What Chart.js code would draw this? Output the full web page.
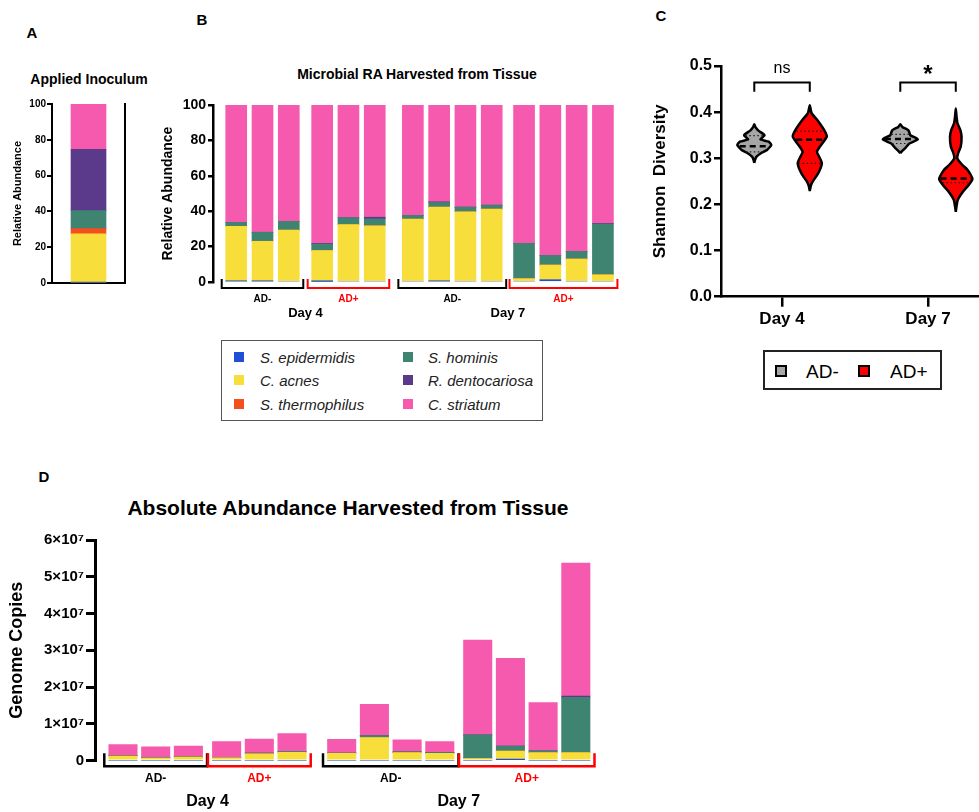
<!DOCTYPE html>
<html>
<head>
<meta charset="utf-8">
<script src="https://cdn.jsdelivr.net/npm/chart.js@4.4.0/dist/chart.umd.min.js"></script>
<style>
  body { margin: 0; background: #fff; }
  #page { position: relative; width: 979px; height: 812px; overflow: hidden; font-family: Arial, "Liberation Sans", sans-serif; }
  canvas { position: absolute; }
  .t { position: absolute; transform: translate(-50%, -50%); line-height: 1; white-space: nowrap; font-weight: bold; color: #000; }
  .box { position: absolute; box-sizing: border-box; }
  .sw { position: absolute; box-sizing: border-box; }
  .lt { position: absolute; transform: translateY(-50%); line-height: 1; white-space: nowrap; }
</style>
</head>
<body>
<div id="page">
  <div class="t" style="left:32px;top:32px;font-size:15px">A</div>
  <div class="t" style="left:202px;top:19px;font-size:15px">B</div>
  <div class="t" style="left:661px;top:15px;font-size:15px">C</div>
  <div class="t" style="left:44px;top:476px;font-size:15px">D</div>
  <div class="t" style="left:89px;top:79px;font-size:14px">Applied Inoculum</div>
  <div class="t" style="left:417px;top:74px;font-size:14px">Microbial RA Harvested from Tissue</div>
  <div class="t" style="left:348px;top:507px;font-size:21px">Absolute Abundance Harvested from Tissue</div>

  <canvas id="chartA" width="140" height="300" style="left:0;top:0"></canvas>
  <canvas id="chartB" width="500" height="290" style="left:140px;top:40px"></canvas>
  <canvas id="chartC" width="339" height="340" style="left:640px;top:0"></canvas>
  <canvas id="chartD" width="640" height="372" style="left:0;top:440px"></canvas>

  <div id="legendB" class="box" style="left:221px;top:340px;width:322px;height:81px;border:1.5px solid #555"></div>
  <div id="legendC" class="box" style="left:763px;top:350px;width:179px;height:40px;border:2px solid #222"></div>
</div>

<script>
// ---- data ----
const speciesNames = ['S. epidermidis', 'C. acnes', 'S. thermophilus', 'S. hominis', 'R. dentocariosa', 'C. striatum'];
const speciesColors = ['#1f4fd6', '#f7de3a', '#f2501f', '#3e8470', '#5b3a8c', '#f65aae'];

// A: applied inoculum, relative abundance per species (same order as speciesNames)
const inoculumRA = [0.4, 27.0, 3.0, 10.0, 34.3, 25.3];

// sample groups (B and D share the same 14 samples)
const groupDays = ['Day 4', 'Day 4', 'Day 7', 'Day 7'];
const groupNames = ['AD-', 'AD+', 'AD-', 'AD+'];
const groupSizes = [3, 3, 4, 4];

// B: relative abundance (%) per sample
const raEpidermidis  = [0.5, 0.5, 0, 0.3, 0, 0, 0, 0.5, 0, 0, 0, 1.3, 0, 0];
const raAcnes        = [31, 22.5, 29.3, 17.5, 32.5, 31.8, 35.5, 41.8, 39.7, 41.2, 1.9, 8.3, 13, 4.1];
const raThermophilus = [0, 0, 0, 0, 0, 0, 0, 0, 0, 0, 0, 0, 0, 0];
const raHominis      = [2.1, 5.1, 4.9, 3.6, 3.8, 3.9, 2.1, 2.6, 2.6, 2.2, 19.9, 5.4, 4.3, 28.6];
const raDentocariosa = [0, 0, 0, 0.4, 0, 0.9, 0, 0.4, 0, 0, 0, 0, 0, 0.4];
const raStriatum     = [66.4, 71.9, 65.8, 78.2, 63.7, 63.4, 62.4, 54.7, 57.7, 56.6, 78.2, 85.0, 82.7, 66.9];

// D: genome copies per sample
const gcEpidermidis  = [0, 0, 0, 0, 0, 0, 0, 0, 0, 0, 0, 3e5, 0, 0];
const gcAcnes        = [1.27e6, 0.7e6, 1.0e6, 0.8e6, 1.9e6, 2.3e6, 2.0e6, 6.3e6, 2.2e6, 2.0e6, 0.6e6, 2.3e6, 2.2e6, 2.2e6];
const gcThermophilus = [0, 0, 0, 0, 0, 0, 0, 0, 0, 0, 0, 0, 0, 0];
const gcHominis      = [1e5, 2e5, 2e5, 1e5, 2e5, 2e5, 1e5, 5e5, 2e5, 2e5, 6.4e6, 1.4e6, 5e5, 1.5e7];
const gcDentocariosa = [0, 0, 0, 0, 0, 0, 0, 0, 0, 0, 0, 0, 0, 4e5];
const gcStriatum     = [3.03e6, 2.9e6, 2.8e6, 4.3e6, 3.8e6, 4.9e6, 3.7e6, 8.5e6, 3.3e6, 3.0e6, 2.58e7, 2.38e7, 1.31e7, 3.61e7];
const genomeTickLabels = ['0', '1×10⁷', '2×10⁷', '3×10⁷', '4×10⁷', '5×10⁷', '6×10⁷'];

// C: Shannon diversity violins (levels and relative density, widest = 1)
const shannonDays = ['Day 4', 'Day 7'];
const shannonGroups = ['AD-', 'AD+'];
const d4NegLevels = [0.290, 0.296, 0.303, 0.311, 0.318, 0.329, 0.336, 0.341, 0.350, 0.360, 0.368, 0.374];
const d4NegDens   = [0, 0.04, 0.12, 0.39, 0.75, 1.0, 0.85, 0.36, 0.60, 0.24, 0.06, 0];
const d4PosLevels = [0.229, 0.240, 0.249, 0.267, 0.289, 0.303, 0.314, 0.325, 0.347, 0.361, 0.383, 0.397, 0.405, 0.415];
const d4PosDens   = [0, 0.06, 0.16, 0.49, 0.71, 0.56, 0.42, 0.59, 1.0, 0.85, 0.44, 0.12, 0.06, 0];
const d7NegLevels = [0.311, 0.316, 0.322, 0.332, 0.341, 0.350, 0.356, 0.361, 0.368, 0.374];
const d7NegDens   = [0, 0.12, 0.29, 0.53, 1.03, 0.59, 0.53, 0.47, 0.12, 0];
const d7PosLevels = [0.184, 0.195, 0.210, 0.228, 0.242, 0.255, 0.266, 0.275, 0.287, 0.300, 0.312, 0.325, 0.347, 0.362, 0.376, 0.392, 0.408];
const d7PosDens   = [0, 0.04, 0.12, 0.43, 0.76, 0.98, 0.85, 0.69, 0.35, 0.09, 0.15, 0.29, 0.34, 0.26, 0.10, 0.04, 0];
const shannonMedian = [0.326, 0.340, 0.342, 0.256];
const shannonQ1     = [0.314, 0.289, 0.332, 0.247];
const shannonQ3     = [0.349, 0.359, 0.352, 0.300];
const sigLabels = ['ns', '*'];

// ---- setup ----
const FONT = 'Arial, "Liberation Sans", sans-serif';
Chart.defaults.font.family = FONT;
Chart.defaults.color = '#000';
Chart.defaults.animation = false;

const raSeries = [raEpidermidis, raAcnes, raThermophilus, raHominis, raDentocariosa, raStriatum];
const gcSeries = [gcEpidermidis, gcAcnes, gcThermophilus, gcHominis, gcDentocariosa, gcStriatum];

// x position of each sample: index plus extra gaps between groups
function samplePositions(gaps) {
  const pos = [];
  let i = 0;
  groupSizes.forEach((n, g) => { for (let k = 0; k < n; k++) pos.push(i++ + gaps[g]); });
  return pos;
}

const bracketPlugin = {
  id: 'groupBrackets',
  afterDraw(chart, _args, o) {
    const {ctx} = chart;
    const xs = chart.scales.x, ys = chart.scales.y;
    const base = ys.getPixelForValue(0);
    const pts = chart.data.datasets[0].data.map(d => d.x);
    const days = {};
    let start = 0;
    ctx.save();
    ctx.lineJoin = 'miter';
    groupSizes.forEach((n, g) => {
      const x0 = xs.getPixelForValue(pts[start]) - o.bar / 2 - o.pad;
      const x1 = xs.getPixelForValue(pts[start + n - 1]) + o.bar / 2 + o.pad;
      const col = groupNames[g] === 'AD+' ? '#ff0000' : '#000000';
      ctx.strokeStyle = col;
      ctx.lineWidth = o.lineWidth;
      ctx.beginPath();
      ctx.moveTo(x0, base + o.rise);
      ctx.lineTo(x0, base + o.drop);
      ctx.lineTo(x1, base + o.drop);
      ctx.lineTo(x1, base + o.rise);
      ctx.stroke();
      ctx.fillStyle = col;
      ctx.font = o.groupFont;
      ctx.textAlign = 'center';
      ctx.textBaseline = 'middle';
      ctx.fillText(groupNames[g], (x0 + x1) / 2, base + o.groupY);
      const d = groupDays[g];
      days[d] = days[d] ? [days[d][0], x1] : [x0, x1];
      start += n;
    });
    ctx.fillStyle = '#000';
    ctx.font = o.dayFont;
    Object.keys(days).forEach(d => ctx.fillText(d, (days[d][0] + days[d][1]) / 2, base + o.dayY));
    ctx.restore();
  }
};

function yAxis(opts) {
  return {
    min: 0, max: opts.max,
    afterFit: s => { s.width = opts.width; },
    ticks: { stepSize: opts.step, font: { size: opts.tickSize, weight: 'bold' }, color: '#000', padding: opts.tickPad, callback: opts.cb },
    grid: { display: true, drawOnChartArea: false, drawTicks: true, tickLength: opts.tickLen, color: '#000', lineWidth: opts.lw },
    border: { display: true, color: '#000', width: opts.lw },
    title: { display: true, text: opts.title, font: { size: opts.titleSize, weight: 'bold' }, color: '#000', padding: { top: opts.titlePad, bottom: 0 } }
  };
}

// ---- A ----
new Chart(document.getElementById('chartA'), {
  type: 'bar',
  data: {
    labels: ['Inoculum'],
    datasets: speciesNames.map((s, k) => ({ label: s, data: [inoculumRA[k]], backgroundColor: speciesColors[k], barThickness: 35 }))
  },
  options: {
    responsive: false,
    layout: { padding: { top: 104, bottom: 17, left: 0, right: 15 } },
    plugins: { legend: { display: false }, tooltip: { enabled: false } },
    scales: {
      x: { stacked: true, afterFit: s => { s.height = 0; }, ticks: { display: false }, grid: { display: false }, border: { display: true, color: '#000', width: 2 } },
      y: Object.assign(yAxis({ max: 100, step: 20, width: 52, tickSize: 10, tickPad: 1, tickLen: 5, lw: 2, title: 'Relative Abundance', titleSize: 11, titlePad: 11 }), { stacked: true }),
      y1: { position: 'right', min: 0, max: 100, afterFit: s => { s.width = 0; }, ticks: { display: false }, grid: { display: false }, border: { display: true, color: '#000', width: 2 } }
    }
  }
});

// ---- B ----
const posB = samplePositions([0, 0.27, 0.72, 0.95]);
new Chart(document.getElementById('chartB'), {
  type: 'bar',
  data: {
    datasets: speciesNames.map((s, k) => ({
      label: s,
      data: raSeries[k].map((v, i) => ({ x: posB[i], y: v })),
      backgroundColor: speciesColors[k],
      barThickness: 21
    }))
  },
  options: {
    responsive: false,
    layout: { padding: { top: 65, bottom: 48, left: 0, right: 20 } },
    plugins: {
      legend: { display: false }, tooltip: { enabled: false },
      groupBrackets: { bar: 21, pad: 4, lineWidth: 2, rise: -3, drop: 6, groupY: 17, dayY: 31,
        groupFont: 'bold 10px ' + FONT, dayFont: 'bold 13px ' + FONT }
    },
    scales: {
      x: { type: 'linear', display: false, stacked: true, offset: false, min: -0.883, max: 14.6 },
      y: Object.assign(yAxis({ max: 100, step: 20, width: 73, tickSize: 14, tickPad: 2, tickLen: 5, lw: 2.5, title: 'Relative Abundance', titleSize: 14, titlePad: 19.6 }), { stacked: true })
    }
  },
  plugins: [bracketPlugin]
});

// ---- D ----
const posD = samplePositions([0, 0.17, 0.69, 0.85]);
new Chart(document.getElementById('chartD'), {
  type: 'bar',
  data: {
    datasets: speciesNames.map((s, k) => ({
      label: s,
      data: gcSeries[k].map((v, i) => ({ x: posD[i], y: v })),
      backgroundColor: speciesColors[k],
      barThickness: 28.4
    }))
  },
  options: {
    responsive: false,
    layout: { padding: { top: 100, bottom: 51.3, left: 0, right: 40 } },
    plugins: {
      legend: { display: false }, tooltip: { enabled: false },
      groupBrackets: { bar: 28.4, pad: 4.5, lineWidth: 2.5, rise: -7.5, drop: 5.5, groupY: 17.5, dayY: 41,
        groupFont: 'bold 12px ' + FONT, dayFont: 'bold 16px ' + FONT }
    },
    scales: {
      x: { type: 'linear', display: false, stacked: true, offset: false, min: -0.856, max: 14.59 },
      y: Object.assign(yAxis({ max: 6e7, step: 1e7, width: 95, tickSize: 15, tickPad: 2, tickLen: 9, lw: 3,
        title: 'Genome Copies', titleSize: 18, titlePad: 6.7,
        cb: (v, i) => genomeTickLabels[i] }), { stacked: true })
    }
  },
  plugins: [bracketPlugin]
});

// ---- C ----
const VIOLIN_HALF = 0.1164;   // x units for density 1
const VIOLIN_OFFSET = 0.19;   // x units from day centre
const violinLevels = [d4NegLevels, d4PosLevels, d7NegLevels, d7PosLevels];
const violinDens = [d4NegDens, d4PosDens, d7NegDens, d7PosDens];

function violinCenter(j) { return 1 + Math.floor(j / 2) + (j % 2 === 0 ? -VIOLIN_OFFSET : VIOLIN_OFFSET); }
function halfWidthAt(j, v) {
  const L = violinLevels[j], D = violinDens[j];
  for (let k = 1; k < L.length; k++) {
    if (v <= L[k]) { const f = (v - L[k - 1]) / (L[k] - L[k - 1]); return (D[k - 1] + f * (D[k] - D[k - 1])) * VIOLIN_HALF; }
  }
  return 0;
}

const violinSets = [];
violinLevels.forEach((L, j) => {
  const cx = violinCenter(j);
  const D = violinDens[j];
  const right = L.map((v, k) => ({ x: cx + D[k] * VIOLIN_HALF, y: v }));
  const left = L.map((v, k) => ({ x: cx - D[k] * VIOLIN_HALF, y: v })).reverse();
  violinSets.push({
    data: right.concat(left.slice(1)),
    order: 2,
    showLine: true, pointRadius: 0, tension: 0.18,
    borderColor: '#000', borderWidth: 2.5,
    backgroundColor: j % 2 === 0 ? '#a6a6a6' : '#ff0000',
    fill: 'shape'
  });
});
violinLevels.forEach((L, j) => {
  const cx = violinCenter(j);
  [[shannonQ1[j], 'q'], [shannonQ3[j], 'q'], [shannonMedian[j], 'm']].forEach(([v, kind]) => {
    const hw = halfWidthAt(j, v) * 0.92;
    violinSets.push({
      data: [{ x: cx - hw, y: v }, { x: cx + hw, y: v }],
      order: 1,
      showLine: true, pointRadius: 0, fill: false,
      borderColor: kind === 'm' ? '#000' : '#222',
      borderWidth: kind === 'm' ? 2.5 : 1.2,
      borderDash: kind === 'm' ? [6, 4] : [1.5, 2.5]
    });
  });
});

const sigPlugin = {
  id: 'sigBrackets',
  afterDraw(chart) {
    const {ctx} = chart;
    const xs = chart.scales.x, ys = chart.scales.y;
    ctx.save();
    ctx.strokeStyle = '#000';
    ctx.lineWidth = 2;
    shannonDays.forEach((d, i) => {
      const x0 = xs.getPixelForValue(violinCenter(2 * i));
      const x1 = xs.getPixelForValue(violinCenter(2 * i + 1));
      const yTop = ys.getPixelForValue(0.464), yLeg = ys.getPixelForValue(0.444);
      ctx.beginPath();
      ctx.moveTo(x0, yLeg); ctx.lineTo(x0, yTop); ctx.lineTo(x1, yTop); ctx.lineTo(x1, yLeg);
      ctx.stroke();
      ctx.fillStyle = '#000';
      ctx.textAlign = 'center';
      ctx.textBaseline = 'middle';
      if (sigLabels[i] === '*') {
        ctx.font = 'bold 24px ' + FONT;
        ctx.fillText(sigLabels[i], (x0 + x1) / 2, ys.getPixelForValue(0.488) + 4);
      } else {
        ctx.font = '16px ' + FONT;
        ctx.fillText(sigLabels[i], (x0 + x1) / 2, ys.getPixelForValue(0.495));
      }
    });
    ctx.restore();
  }
};

new Chart(document.getElementById('chartC'), {
  type: 'scatter',
  data: { datasets: violinSets },
  options: {
    responsive: false,
    layout: { padding: { top: 66, bottom: 3.3, left: 0, right: 0 } },
    plugins: { legend: { display: false }, tooltip: { enabled: false } },
    scales: {
      x: {
        type: 'linear', min: 0.582, max: 2.349,
        afterFit: s => { s.height = 40; },
        afterBuildTicks: s => { s.ticks = shannonDays.map((d, i) => ({ value: i + 1 })); },
        ticks: { font: { size: 17, weight: 'bold' }, color: '#000', padding: 2, callback: v => shannonDays[v - 1] },
        grid: { display: true, drawOnChartArea: false, drawTicks: true, tickLength: 10, color: '#000', lineWidth: 2.5 },
        border: { display: true, color: '#000', width: 2.5 }
      },
      y: yAxis({ max: 0.5, step: 0.1, width: 81, tickSize: 16, tickPad: 2, tickLen: 7, lw: 2.5,
        title: 'Shannon  Diversity', titleSize: 17, titlePad: 10.5, cb: v => v.toFixed(1) })
    }
  },
  plugins: [sigPlugin]
});

// ---- legends ----
// legend B order is column-wise: epidermidis, acnes, thermophilus | hominis, dentocariosa, striatum
const legB = document.getElementById('legendB');
const rowY = [15.7, 39, 62.7];
speciesNames.forEach((s, k) => {
  const col = Math.floor(k / 3), row = k % 3;
  const sw = document.createElement('div');
  sw.className = 'sw';
  sw.style.cssText = `left:${col ? 181 : 12}px;top:${rowY[row] - 5}px;width:10px;height:10px;background:${speciesColors[k]}`;
  legB.appendChild(sw);
  const tx = document.createElement('div');
  tx.className = 'lt';
  tx.style.cssText = `left:${col ? 206 : 38}px;top:${rowY[row]}px;font-size:15px;font-style:italic;color:#222`;
  tx.textContent = s;
  legB.appendChild(tx);
});

const legC = document.getElementById('legendC');
shannonGroups.forEach((g, j) => {
  const sw = document.createElement('div');
  sw.className = 'sw';
  sw.style.cssText = `left:${j ? 93 : 10}px;top:13px;width:12px;height:12px;border:2px solid #000;background:${j ? '#ff0000' : '#a6a6a6'}`;
  legC.appendChild(sw);
  const tx = document.createElement('div');
  tx.className = 'lt';
  tx.style.cssText = `left:${j ? 125 : 41}px;top:19px;font-size:19px;color:#000`;
  tx.textContent = g;
  legC.appendChild(tx);
});
</script>
</body>
</html>
